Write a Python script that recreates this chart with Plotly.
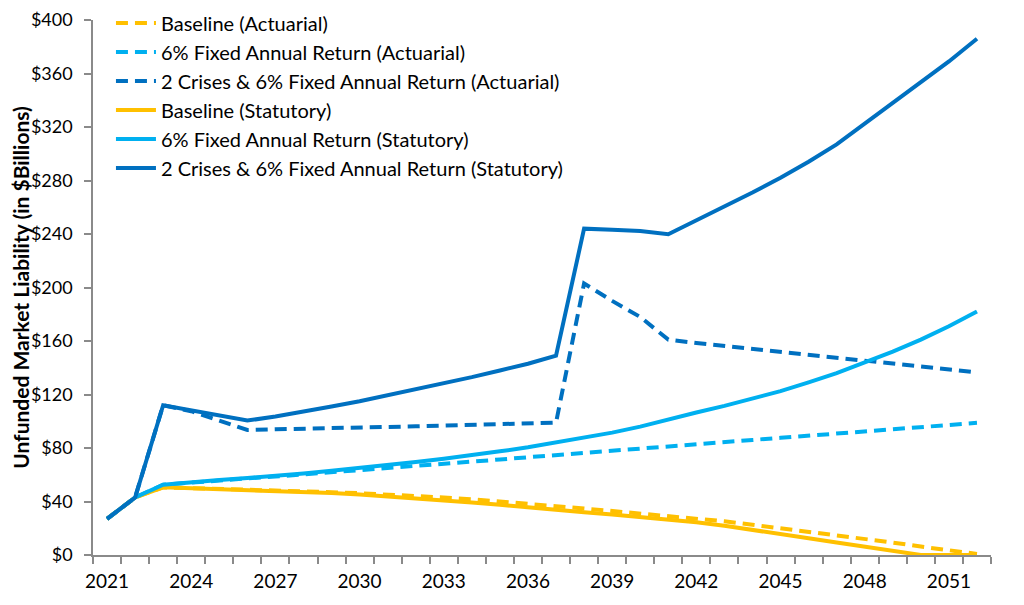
import plotly.graph_objects as go

years = list(range(2021, 2053))

baseline_actuarial = [27, 43, 50.6, 50.1, 49.6, 49.1, 48.5, 47.8, 47.0, 46.2, 45.3, 44.2,
                      43, 41.7, 40.2, 38.5, 36.5, 34.8, 33, 31, 29.2, 27.4, 25.2, 22.6,
                      20, 17.4, 14.8, 12.3, 9.3, 6.3, 3.4, 0.8]
fixed6_actuarial = [27, 43, 52.5, 54.3, 55.8, 57.3, 58.7, 60.2, 61.8, 63.4, 65, 66.6,
                    68.2, 69.8, 71.4, 73.1, 74.8, 76.4, 78, 79.6, 81.2, 82.8, 84.4, 86,
                    87.6, 89.2, 90.8, 92.3, 93.9, 95.5, 97.1, 98.8]
crises_actuarial = [27, 43, 112, 107.5, 100.5, 93.5, 94, 94.3, 94.7, 95.2, 95.7, 96.2,
                    96.7, 97.2, 97.8, 98.4, 99, 203, 190, 178, 161, 158.5, 156.3, 154,
                    151.8, 149.5, 147.3, 145, 143, 140.8, 138.7, 136.5]
baseline_statutory = [27, 43, 50.6, 50.0, 49.4, 48.8, 48.0, 47.2, 46.3, 45.2, 43.9, 42.5,
                      41, 39.3, 37.5, 35.5, 33.5, 32, 30.3, 28.6, 26.8, 24.5, 21.8, 18.9,
                      15.8, 12.6, 9.4, 6.2, 3, 0, 0, 0]
fixed6_statutory = [27, 43, 52.5, 54.5, 56, 57.5, 59, 61, 63, 65, 67, 69.5,
                    72, 74.5, 77.5, 80.5, 84, 87.5, 91.5, 96, 101.5, 106.5, 111.5, 117,
                    122.5, 129, 136, 144, 152, 161, 171, 182]
crises_statutory = [27, 43, 112, 108, 104, 100.5, 103.5, 107, 111, 115, 119.5, 123.5,
                    128, 133, 138, 143, 149, 244, 243.2, 242.2, 239.8, 250, 260.5, 271,
                    282, 294, 307, 322.5, 338, 353.5, 369, 386]

series_names = [
    "Baseline (Actuarial)",
    "6% Fixed Annual Return (Actuarial)",
    "2 Crises & 6% Fixed Annual Return (Actuarial)",
    "Baseline (Statutory)",
    "6% Fixed Annual Return (Statutory)",
    "2 Crises & 6% Fixed Annual Return (Statutory)",
]
series_values = [baseline_actuarial, fixed6_actuarial, crises_actuarial,
                 baseline_statutory, fixed6_statutory, crises_statutory]
series_colors = ["#FFC000", "#00B0F0", "#0070C0", "#FFC000", "#00B0F0", "#0070C0"]
series_dash = ["12px,7px", "12px,7px", "12px,7px", "solid", "solid", "solid"]

x_tick_labels = [str(y) for y in range(2021, 2052, 3)]
x_tick_vals = list(range(2021, 2052, 3))
y_tick_vals = list(range(0, 401, 40))
y_tick_labels = ["$" + str(v) for v in y_tick_vals]

fig = go.Figure()
for i, (name, vals, col, dash) in enumerate(zip(series_names, series_values, series_colors, series_dash)):
    fig.add_trace(go.Scatter(
        x=years, y=vals, name=name, mode="lines",
        line=dict(color=col, width=4, dash=dash),
        legendgroup="g%d" % i,
    ))

axis_col = "#8A8A8A"
fig.update_layout(
    width=1024, height=605,
    margin=dict(l=85, r=41, t=12, b=58, autoexpand=False),
    paper_bgcolor="white", plot_bgcolor="white",
    font=dict(family="Lato", size=18, color="black"),
    showlegend=True,
    legend=dict(
        x=0.02, y=1.031, xanchor="left", yanchor="top",
        bgcolor="rgba(0,0,0,0)", traceorder="grouped", tracegroupgap=0,
        itemwidth=40, font=dict(family="Lato", size=20, color="black"),
    ),
    xaxis=dict(
        range=[2020.5, 2052.5], tickmode="array", tickvals=x_tick_vals, ticktext=x_tick_labels,
        showgrid=False, zeroline=False, showline=True, linecolor=axis_col, linewidth=1.5,
        ticks="", ticklabelstandoff=8, automargin=False, ticklabeloverflow="allow",
        minor=dict(ticks="outside", tick0=2020.5, dtick=1, ticklen=7, tickcolor=axis_col,
                   tickwidth=1.5, showgrid=False),
        tickfont=dict(family="Lato", size=19, color="black"),
    ),
    yaxis=dict(
        range=[0, 400], tickmode="array", tickvals=y_tick_vals, ticktext=y_tick_labels,
        showgrid=False, zeroline=False, showline=True, linecolor=axis_col, linewidth=1.5,
        ticks="outside", ticklen=7, tickcolor=axis_col, tickwidth=1.5, ticklabelstandoff=8,
        automargin=False, ticklabeloverflow="allow",
        tickfont=dict(family="Lato", size=18, color="black"),
        title=dict(text="<b>Unfunded Market Liability (in $Billions)</b>", standoff=1,
                   font=dict(family="Lato", size=21, color="black")),
    ),
)

fig.write_html("out.html")
